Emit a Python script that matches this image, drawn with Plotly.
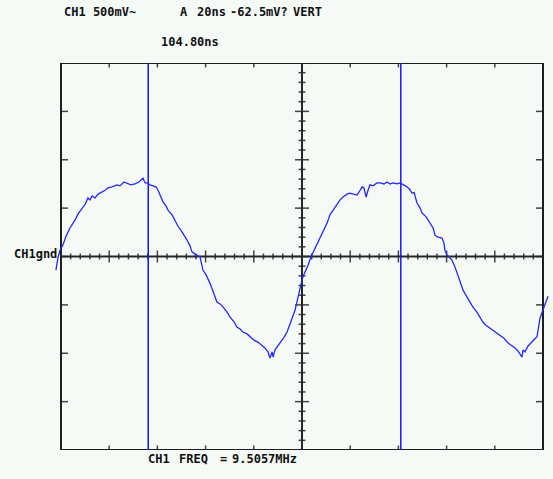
import plotly.graph_objects as go

# ---- data (time in ns from left screen edge, voltage in mV) ----
t_ns = [-2.1, -1.2, -0.4, 0.8, 2.1, 3.7, 5.0, 5.8, 7.1, 8.7, 10.0, 11.2, 12.0, 12.9, 14.1, 15.4, 17.0, 18.3, 19.5,
        21.2, 23.2, 24.5, 26.1, 27.4, 29.0, 30.7, 32.4, 34.0, 34.9, 35.7, 36.9, 38.2, 39.4, 40.2, 41.5, 42.3, 43.6,
        44.4, 46.1, 47.3, 48.5, 50.2, 51.5, 52.3, 53.5, 54.4, 55.6, 56.9, 57.7, 58.9, 60.2, 61.8, 63.1, 64.7, 66.0,
        67.2, 68.9, 70.1, 71.8, 73.0, 74.3, 75.5, 77.2, 78.4, 80.1, 81.7, 83.4, 84.6, 85.9, 86.7, 87.6, 88.0, 88.8,
        90.0, 90.9, 92.5, 93.8, 95.0, 95.9, 97.1, 97.9, 98.8, 99.2, 100.0, 100.4, 101.7, 102.5, 103.7, 105.0, 106.2,
        107.5, 108.7, 110.4, 111.6, 112.9, 114.5, 115.8, 117.0, 118.7, 119.9, 121.6, 122.8, 124.1, 124.9, 125.7,
        126.6, 127.4, 128.2, 129.5, 131.1, 132.4, 134.0, 135.3, 136.5, 137.8, 139.4, 140.7, 142.3, 143.6, 144.8,
        145.6, 146.5, 147.7, 149.0, 149.8, 151.5, 153.1, 154.4, 155.2, 156.4, 158.1, 158.9, 159.3, 160.2, 161.4,
        162.2, 163.5, 164.3, 165.6, 166.8, 168.0, 169.7, 171.0, 172.6, 173.9, 175.1, 176.3, 178.0, 179.7, 182.2,
        183.8, 185.5, 186.7, 188.4, 189.6, 191.3, 191.7, 192.5, 193.8, 195.4, 196.7, 197.5, 198.3, 198.8, 200.0,
        201.2, 202.1]
v_mV = [-140, -5, 65, 120, 210, 295, 345, 375, 440, 500, 540, 605, 585, 625, 605, 645, 665, 685, 710,
        720, 740, 730, 770, 760, 740, 750, 770, 810, 760, 760, 740, 730, 720, 690, 615, 565, 520,
        480, 430, 375, 315, 255, 210, 170, 110, 45, 25, 5, -5, -140, -190, -275, -365, -470, -490,
        -520, -575, -625, -675, -730, -750, -780, -800, -830, -865, -885, -915, -945, -985, -1050, -985, -1040, -965,
        -925, -895, -835, -780, -700, -635, -555, -470, -365, -305, -245, -210, -140, -90, -5, 65, 120,
        200, 265, 345, 430, 480, 540, 585, 615, 645, 655, 645, 635, 685, 720, 710,
        615, 685, 740, 730, 760, 760, 750, 770, 750, 760, 750, 760, 740, 720, 690,
        655, 660, 555, 500, 450, 410, 345, 295, 220, 200, 190, 140, 65, 15, -15,
        -35, -110, -170, -265, -345, -400, -470, -525, -575, -625, -680, -710, -740, -770, -810,
        -845, -895, -915, -945, -975, -1040, -965, -985, -925, -885, -855, -830, -710, -635, -550,
        -470, -410]

cursors_ns = [36.2, 141.0]

header_texts = ["CH1 500mV~", "A", "20ns", "-62.5mV?", "VERT"]
cursor_text = "104.80ns"
ground_label = "CH1gnd"
footer_texts = ["CH1", "FREQ", "=", "9.5057MHz"]

# ---- screen geometry ----
W, H = 553, 479
ML, MR, MT, MB = 51, 4, 63, 29
NS_DIV, MV_DIV = 20, 500
X_DIVS, Y_DIVS = 10, 8
PX_PER_NS = 48.2 / NS_DIV
PX_PER_MV = 387 / (Y_DIVS * MV_DIV)
X0_PX = 61  # pixel of t=0
xr = [(ML - X0_PX) / PX_PER_NS, (W - MR - X0_PX) / PX_PER_NS]
XMAX = X_DIVS * NS_DIV
YMAX = Y_DIVS * MV_DIV / 2

BG = "#f5faf7"
FRAME = "#1e1e1e"
AXC = "#262626"
TICKC = "#444444"
BLUE = "#1515ff"

fig = go.Figure()

tx, ty = [], []
def seg(x0, y0, x1, y1):
    tx.extend([x0, x1, None]); ty.extend([y0, y1, None])

dx = lambda p: p / PX_PER_NS
dy = lambda p: p / PX_PER_MV

for i in range(1, X_DIVS):
    x = i * NS_DIV
    seg(x, YMAX, x, YMAX - dy(4.5))
    seg(x, -YMAX, x, -YMAX + dy(4.5))
for j in range(1, Y_DIVS):
    y = -YMAX + j * MV_DIV
    seg(0, y, dx(7), y)
    seg(XMAX, y, XMAX - dx(7), y)
for k in range(0, X_DIVS * 5 + 1):
    x = k * NS_DIV / 5
    h = 6 if k % 5 == 0 else 3
    seg(x, -dy(h), x, dy(h))
for k in range(0, Y_DIVS * 5 + 1):
    y = -YMAX + k * MV_DIV / 5
    w = 7 if k % 5 == 0 else 3.5
    seg(XMAX / 2 - dx(w), y, XMAX / 2 + dx(w), y)

fig.add_trace(go.Scatter(x=tx, y=ty, mode="lines", line=dict(color=TICKC, width=1.5),
                         hoverinfo="skip", showlegend=False))
fig.add_trace(go.Scatter(x=[0, XMAX, None, XMAX / 2, XMAX / 2], y=[0, 0, None, -YMAX, YMAX],
                         mode="lines", line=dict(color=AXC, width=2), hoverinfo="skip", showlegend=False))
fig.add_trace(go.Scatter(x=[0, XMAX, XMAX, 0, 0], y=[-YMAX, -YMAX, YMAX, YMAX, -YMAX],
                         mode="lines", line=dict(color=FRAME, width=2), hoverinfo="skip", showlegend=False))
cx, cy = [], []
for c in cursors_ns:
    cx.extend([c, c, None]); cy.extend([-YMAX, YMAX, None])
fig.add_trace(go.Scatter(x=cx, y=cy, mode="lines", line=dict(color=BLUE, width=1.5),
                         hoverinfo="skip", showlegend=False))
fig.add_trace(go.Scatter(x=t_ns, y=v_mV, mode="lines", line=dict(color="#2626ff", width=1.3),
                         showlegend=False))

def px2paper(px, py):
    return (px - ML) / (W - ML - MR), (H - MB - py) / (H - MT - MB)

font = dict(family="DejaVu Sans Mono", size=12, color="#111111", weight="bold")
anns = []
def label(text, px, py):
    x, y = px2paper(px - 1, py)
    anns.append(dict(text=text, x=x, y=y, xref="paper", yref="paper", xanchor="left",
                     yanchor="middle", showarrow=False, font=font))

for text, px in zip(header_texts, [63, 179, 196, 229, 292]):
    label(text, px, 12)
label(cursor_text, 160, 42)
label(ground_label, 13, 254)
for text, px in zip(footer_texts, [147, 178, 219, 231]):
    label(text, px, 459)

fig.update_layout(
    width=W, height=H,
    margin=dict(l=ML, r=MR, t=MT, b=MB, pad=0),
    paper_bgcolor=BG, plot_bgcolor=BG,
    xaxis=dict(range=xr, visible=False, fixedrange=True),
    yaxis=dict(range=[-YMAX, YMAX], visible=False, fixedrange=True),
    annotations=anns,
)

fig.write_html("out.html")
